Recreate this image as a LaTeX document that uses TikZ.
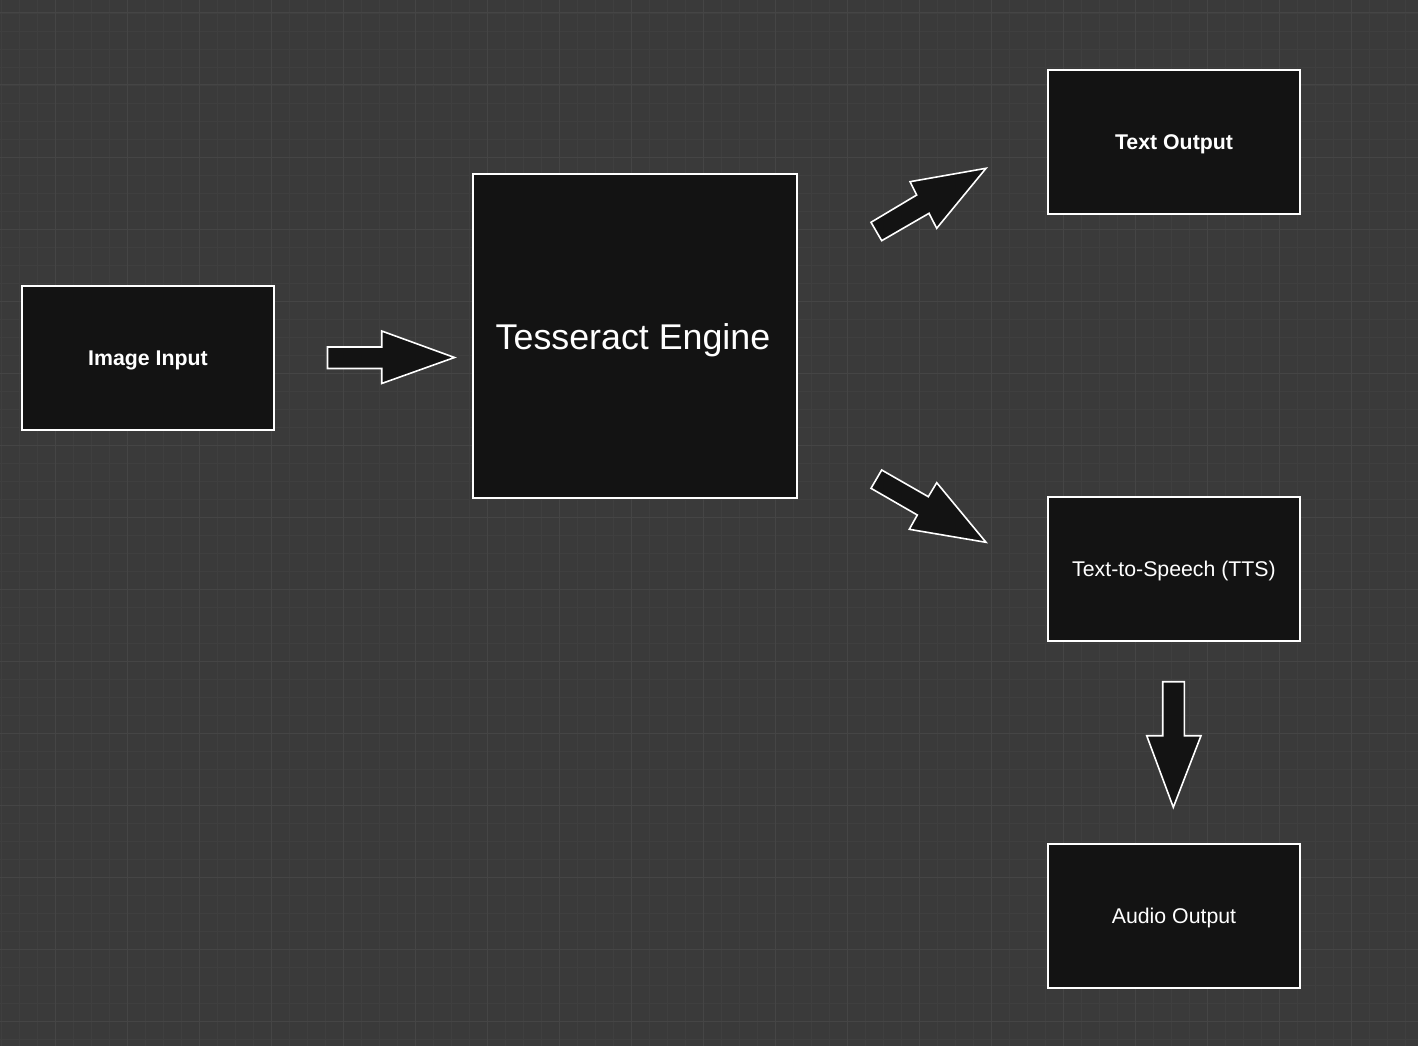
\documentclass[tikz,border=0pt]{standalone}
\usepackage{fontspec}
\setmainfont{Liberation Sans}
\definecolor{bgc}{HTML}{3A3A3A}
\definecolor{minorc}{HTML}{3F3F3F}
\definecolor{majorc}{HTML}{454545}
\definecolor{boxc}{HTML}{131313}
\tikzset{
  blockbox/.style={draw=white, fill=boxc, line width=1.6pt, minimum width=252pt, minimum height=144pt, inner sep=0pt, text=white, font=\fontsize{21.3}{25}\selectfont},
  blockarrow/.style={draw=white, fill=boxc, line width=1.6pt, line join=miter},
}
\newcommand{\lowered}[1]{\raisebox{-2pt}[\height][\depth]{#1}}
\begin{document}
\begin{tikzpicture}[x=1pt,y=-1pt]
\useasboundingbox (0,0) rectangle (1418,1046);
\fill[bgc] (0,0) rectangle (1418,1046);
% minor grid
\foreach \i in {0,...,79} {
  \draw[minorc, line width=0.8pt] ({1+18*\i},0) -- ({1+18*\i},1046);
}
\foreach \i in {0,...,58} {
  \draw[minorc, line width=0.8pt] (0,{13+18*\i}) -- (1418,{13+18*\i});
}
% major grid
\foreach \i in {0,...,19} {
  \draw[majorc, line width=1pt] ({55+72*\i},0) -- ({55+72*\i},1046);
}
\foreach \i in {0,...,14} {
  \draw[majorc, line width=1pt] (0,{13+72*\i}) -- (1418,{13+72*\i});
}
% boxes
\node[blockbox, font=\fontsize{21.3}{25}\selectfont\bfseries] (img) at (148,358) {\lowered{Image Input}};
\node[blockbox, minimum width=324pt, minimum height=324pt, anchor=north west] (tess) at (472,173) {};
\node[text=white, font=\fontsize{35.8}{40}\selectfont] (tesslabel) at (633,340) {Tesseract Engine};
\node[blockbox, font=\fontsize{21.3}{25}\selectfont\bfseries] (txt) at (1174,142) {\lowered{Text Output}};
\node[blockbox] (tts) at (1174,569) {\lowered{Text-to-Speech (TTS)}};
\node[blockbox] (audio) at (1174,916) {\lowered{Audio Output}};
% block arrows
\draw[blockarrow] (327.5,347) -- (381.7,347) -- (381.7,331) -- (454.5,357.5) -- (381.7,383.5) -- (381.7,368.5) -- (327.5,368.5) -- cycle;
\draw[blockarrow] (871,222.3) -- (916.7,195) -- (910,181.7) -- (986,168.3) -- (936.7,228.3) -- (929,213.3) -- (881.7,240.7) -- cycle;
\draw[blockarrow] (881.7,470) -- (928.3,496.7) -- (936.7,482.7) -- (986,542.3) -- (909.3,529.3) -- (917.3,515) -- (871,488.3) -- cycle;
\draw[blockarrow] (1162.7,681.7) -- (1184.3,681.7) -- (1184.3,735.7) -- (1201,735.7) -- (1173.3,807.3) -- (1146.7,735.7) -- (1162.7,735.7) -- cycle;
\end{tikzpicture}
\end{document}
